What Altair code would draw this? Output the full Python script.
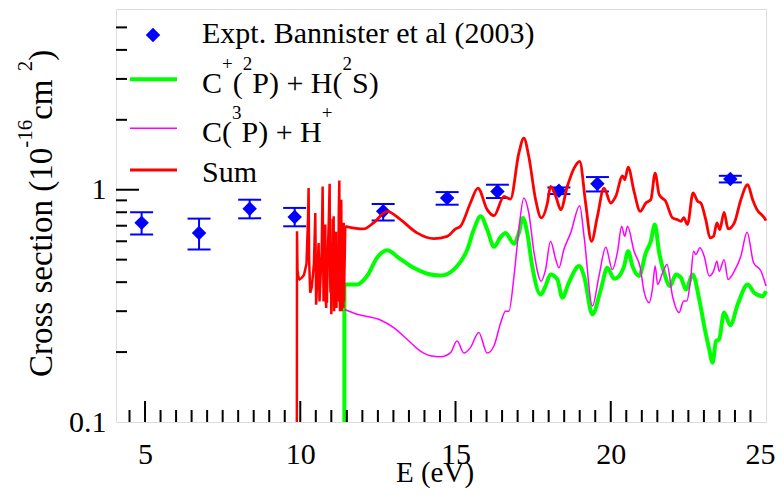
import altair as alt
import pandas as pd

# ---------------- data ----------------
expt_E = [4.89, 6.74, 8.37, 9.82, 12.67, 14.73, 16.35, 18.33, 19.57, 23.85]
expt_V = [0.720, 0.652, 0.829, 0.764, 0.807, 0.921, 0.983, 0.990, 1.061, 1.111]
expt_lo = [0.641, 0.553, 0.753, 0.696, 0.738, 0.862, 0.921, 0.958, 0.983, 1.075]
expt_hi = [0.799, 0.751, 0.906, 0.835, 0.868, 0.977, 1.051, 1.023, 1.134, 1.148]

green_E = [11.42, 11.421, 11.83, 12.15, 12.47, 12.80, 13.17, 13.65, 14.09, 14.52, 15.00, 15.38,
           15.59, 15.81, 16.02, 16.24, 16.45, 16.61, 16.88, 17.04, 17.17, 17.31, 17.47, 17.74,
           17.90, 18.06, 18.28, 18.44, 18.65, 18.98, 19.14, 19.41, 19.68, 19.89, 20.11, 20.27,
           20.43, 20.56, 20.70, 20.91, 21.13, 21.29, 21.42, 21.56, 21.72, 21.91, 22.10, 22.26,
           22.42, 22.64, 22.85, 23.03, 23.17, 23.28, 23.39, 23.49, 23.65, 23.85, 24.09, 24.41,
           24.62, 24.89, 25.00]
green_V = [0.100, 0.391, 0.391, 0.425, 0.509, 0.549, 0.509, 0.461, 0.435, 0.427, 0.461, 0.553,
           0.674, 0.768, 0.674, 0.568, 0.625, 0.652, 0.586, 0.652, 0.756, 0.652, 0.469, 0.354,
           0.385, 0.432, 0.411, 0.343, 0.398, 0.469, 0.425, 0.291, 0.372, 0.461, 0.414, 0.425,
           0.469, 0.543, 0.469, 0.425, 0.535, 0.600, 0.708, 0.535, 0.439, 0.385, 0.432, 0.418,
           0.372, 0.432, 0.337, 0.251, 0.206, 0.180, 0.223, 0.227, 0.296, 0.261, 0.321, 0.391,
           0.360, 0.348, 0.366]

mag_E = [11.42, 11.83, 12.58, 13.01, 13.44, 13.87, 14.19, 14.52, 14.84, 15.05, 15.27, 15.48,
         15.75, 16.02, 16.24, 16.45, 16.61, 16.72, 16.88, 17.04, 17.20, 17.36, 17.53, 17.76,
         17.90, 18.06, 18.23, 18.33, 18.49, 18.71, 19.00, 19.14, 19.41, 19.62, 19.84, 20.05,
         20.22, 20.35, 20.45, 20.54, 20.75, 20.95, 21.07, 21.24, 21.34, 21.43, 21.51, 21.67,
         21.81, 21.99, 22.20, 22.35, 22.45, 22.56, 22.67, 22.74, 22.87, 23.01, 23.17, 23.31,
         23.42, 23.49, 23.65, 23.78, 23.98, 24.19, 24.39, 24.60, 24.84, 25.00]
mag_V = [0.305, 0.291, 0.275, 0.255, 0.227, 0.202, 0.193, 0.191, 0.199, 0.223, 0.198, 0.209,
         0.243, 0.198, 0.213, 0.266, 0.300, 0.300, 0.420, 0.674, 0.921, 0.794, 0.535, 0.404,
         0.453, 0.600, 0.500, 0.461, 0.553, 0.652, 0.854, 0.630, 0.316, 0.425, 0.565, 0.453,
         0.543, 0.696, 0.630, 0.696, 0.543, 0.462, 0.366, 0.326, 0.372, 0.469, 0.391, 0.439,
         0.477, 0.348, 0.296, 0.332, 0.332, 0.398, 0.543, 0.526, 0.562, 0.517, 0.425, 0.446,
         0.492, 0.446, 0.500, 0.411, 0.446, 0.517, 0.656, 0.485, 0.446, 0.385]

# resonance region of the sum (sharp spikes)
red_res_E = [9.890, 9.895, 9.91, 9.95, 9.98, 10.05, 10.12, 10.20, 10.25, 10.268, 10.285, 10.32,
             10.37, 10.44, 10.484, 10.51, 10.55, 10.59, 10.62, 10.69, 10.72, 10.75, 10.765,
             10.78, 10.795, 10.806, 10.82, 10.835, 10.85, 10.86, 10.875, 10.89, 10.92, 10.946,
             10.96, 10.975, 10.99, 11.00, 11.015, 11.03, 11.045, 11.06, 11.075, 11.09, 11.105,
             11.12, 11.135, 11.15, 11.165, 11.18, 11.195, 11.21, 11.225, 11.24, 11.258, 11.27,
             11.28, 11.29, 11.30, 11.31, 11.32, 11.335, 11.35, 11.36, 11.37, 11.38, 11.39,
             11.40, 11.41, 11.42, 11.45]
red_res_V = [0.100, 0.662, 0.450, 0.415, 0.411, 0.418, 0.430, 0.480, 0.750, 1.017, 0.500, 0.360,
             0.380, 0.480, 0.794, 0.320, 0.420, 0.590, 0.330, 0.550, 1.033, 0.330, 0.420,
             0.450, 0.600, 0.708, 0.340, 0.310, 0.400, 0.326, 0.450, 0.550, 0.750, 1.061,
             0.420, 0.360, 0.450, 0.291, 0.400, 0.500, 0.750, 0.450, 0.768, 0.300, 0.420,
             0.550, 0.350, 0.660, 0.310, 0.450, 0.330, 0.500, 0.360, 0.800, 1.096, 0.350,
             0.300, 0.450, 0.550, 0.330, 0.906, 0.300, 0.500, 0.700, 0.320, 0.450, 0.310,
             0.720, 0.330, 0.420, 0.696]

red_E = [11.45, 12.04, 12.36, 12.80, 13.23, 13.76, 14.30, 14.73, 15.00, 15.16, 15.48, 15.72,
         16.02, 16.24, 16.56, 16.77, 17.04, 17.20, 17.36, 17.58, 17.76, 17.96, 18.06, 18.23,
         18.39, 18.60, 18.82, 19.00, 19.19, 19.38, 19.57, 19.78, 20.00, 20.16, 20.38, 20.45,
         20.56, 20.75, 20.95, 21.13, 21.29, 21.43, 21.56, 21.77, 21.99, 22.15, 22.26, 22.35,
         22.47, 22.65, 22.80, 22.90, 23.06, 23.20, 23.31, 23.42, 23.51, 23.65, 23.78, 23.98,
         24.19, 24.41, 24.57, 24.71, 24.95, 25.00]
red_V = [0.696, 0.678, 0.720, 0.807, 0.743, 0.652, 0.616, 0.630, 0.678, 0.696, 0.877, 1.017,
         0.821, 0.773, 0.936, 0.912, 1.437, 1.667, 1.390, 0.906, 0.756, 0.877, 1.033, 0.936,
         0.821, 1.033, 1.239, 1.323, 0.877, 0.600, 0.768, 1.017, 0.877, 0.936, 1.148, 1.104,
         1.252, 0.983, 0.807, 0.877, 0.906, 1.179, 0.952, 0.891, 0.756, 0.743, 0.731, 0.758,
         0.708, 0.968, 0.891, 0.877, 0.743, 0.620, 0.630, 0.720, 0.674, 0.799, 0.678, 0.720,
         0.906, 1.051, 0.906, 0.821, 0.756, 0.736]

x_major = [5, 10, 15, 20]
x_minor = [v / 2 for v in range(9, 50) if v % 2 == 1 or (v // 2) % 5 != 0]
y_major = [1]
y_minor = [0.2, 0.3, 0.4, 0.5, 0.6, 0.7, 0.8, 0.9, 2, 3, 4, 5]

legend_labels = ["Expt. Bannister et al (2003)", "Sum"]

# ---------------- layout ----------------
FONT = "Liberation Serif"
W, H = 650, 413
xs = alt.Scale(domain=[4.065, 25], nice=False, zero=False)
ys = alt.Scale(type="log", domain=[0.1, 6], nice=False)

xaxis = alt.Axis(values=[5, 10, 15, 20, 25], format="d", ticks=False, tickSize=0, domain=False,
                 grid=False, labelFont=FONT, labelFontSize=30, labelColor="black",
                 labelPadding=41, labelBaseline="alphabetic", labelFlush=False,
                 labelOverlap=False, title=None,
                 labelOffset={"condition": {"test": "datum.value == 25", "value": -6},
                              "value": 0})
yaxis = alt.Axis(values=[0.1, 1], labelExpr="datum.value < 0.5 ? '0.1' : '1'", ticks=False,
                 tickSize=0, domain=False, grid=False, labelFont=FONT, labelFontSize=30,
                 labelColor="black", labelPadding=10, labelBaseline="middle", labelFlush=False,
                 labelOverlap=False, title=None)


def X(f):
    return alt.X(f, type="quantitative", scale=xs, axis=xaxis)


def Y(f):
    return alt.Y(f, type="quantitative", scale=ys, axis=yaxis)


GREEN = "#00ff00"
expt = pd.DataFrame({"E": expt_E, "V": expt_V, "lo": expt_lo, "hi": expt_hi})
layers = []
layers.append(alt.Chart(expt).mark_rule(color="#0000ff", strokeWidth=2).encode(
    x=X("E"), y=Y("lo"), y2="hi"))
for f in ["lo", "hi"]:
    layers.append(alt.Chart(expt).mark_tick(color="#0000ff", orient="horizontal", size=23,
                                            thickness=2, opacity=1).encode(x=X("E"), y=Y(f)))
layers.append(alt.Chart(expt).mark_point(shape="diamond", filled=True, size=210, color="#0000ff",
                                         opacity=1).encode(x=X("E"), y=Y("V")))

green = pd.DataFrame({"E": green_E, "V": green_V})
mag = pd.DataFrame({"E": mag_E, "V": mag_V})
red_res = pd.DataFrame({"E": red_res_E, "V": red_res_V})
red = pd.DataFrame({"E": red_E, "V": red_V})
layers.append(alt.Chart(green).mark_line(color=GREEN, strokeWidth=4, interpolate="monotone")
              .encode(x=X("E"), y=Y("V")))
layers.append(alt.Chart(mag).mark_line(color="#ff00ff", strokeWidth=1.5, interpolate="monotone")
              .encode(x=X("E"), y=Y("V")))
layers.append(alt.Chart(red_res).mark_line(color="#ff0000", strokeWidth=2.5)
              .encode(x=X("E"), y=Y("V")))
layers.append(alt.Chart(red).mark_line(color="#ff0000", strokeWidth=2.8, interpolate="monotone")
              .encode(x=X("E"), y=Y("V")))

# ticks (inward)
for vals, ln in [(x_major, 21), (x_minor, 12)]:
    layers.append(alt.Chart(pd.DataFrame({"v": vals})).mark_rule(color="black", strokeWidth=2)
                  .encode(x=X("v"), y=alt.value(H), y2=alt.value(H - ln)))
for vals, ln in [(y_major, 23), (y_minor, 11)]:
    layers.append(alt.Chart(pd.DataFrame({"v": vals})).mark_rule(color="black", strokeWidth=2)
                  .encode(y=Y("v"), x=alt.value(0), x2=alt.value(ln)))

dummy = pd.DataFrame({"a": [0]})


def txt(s, x, y, size, angle=0, align="left"):
    return alt.Chart(dummy).mark_text(text=s, font=FONT, fontSize=size, angle=angle, align=align,
                                      baseline="alphabetic", color="black").encode(
        x=alt.value(x), y=alt.value(y))


WID = {"C": 667, "(": 333, ")": 333, "P": 556, " ": 250, "+": 564, "H": 722, "S": 556, "2": 500,
       "3": 500, "1": 500, "6": 500, "-": 333, "0": 500, "c": 444, "m": 778, "r": 333, "o": 500,
       "s": 389, "e": 444, "t": 278, "i": 278, "n": 500}


def tw(s, f):
    return sum(WID[c] for c in s) * f / 1000.0


def rich_h(parts, x0, y0, F, Fs, rise):
    out = []
    x = x0
    for s, sup in parts:
        if sup:
            out.append(txt(s, x, y0 - rise, Fs))
            x += tw(s, Fs)
        else:
            out.append(txt(s, x, y0, F))
            x += tw(s, F)
    return out


def rich_v(parts, x0, y0, F, Fs, rise):
    out = []
    y = y0
    for s, sup in parts:
        if sup:
            out.append(txt(s, x0 - rise, y, Fs, angle=270))
            y -= tw(s, Fs)
        else:
            out.append(txt(s, x0, y, F, angle=270))
            y -= tw(s, F)
    return out


LF, LFs, LR = 30, 19, 23
# legend
layers.append(alt.Chart(dummy).mark_point(shape="diamond", filled=True, size=210, color="#0000ff",
                                          opacity=1).encode(x=alt.value(37), y=alt.value(26)))
layers.append(txt(legend_labels[0], 86, 34.3, LF))
for yy, col, sw in [(70.3, GREEN, 4), (119.3, "#ff00ff", 1.5), (161, "#ff0000", 2.8)]:
    layers.append(alt.Chart(dummy).mark_rule(color=col, strokeWidth=sw).encode(
        x=alt.value(14), x2=alt.value(61), y=alt.value(yy)))
layers += rich_h([("C", 0), ("+", 1), ("(", 0), ("2", 1), ("P) + H(", 0), ("2", 1), ("S)", 0)],
                 86, 84, LF, LFs, LR)
layers += rich_h([("C(", 0), ("3", 1), ("P) + H", 0), ("+", 1)], 86, 132.5, LF, LFs, LR)
layers.append(txt(legend_labels[1], 86, 172.5, LF))

# axis titles
layers.append(txt("E (eV)", 319, 473, 29, align="center"))
layers += rich_v([("Cross section (10", 0), ("-16", 1), (" cm", 0), ("2", 1), (")", 0)],
                 -64, 368, 33, 21, 20)

chart = alt.layer(*layers).properties(
    width=W, height=H, autosize="none",
    padding={"left": 108, "top": 1, "right": 9, "bottom": 66},
).configure_view(stroke="black", strokeWidth=2).configure(background="white")

chart.save("out.html", embed_options={"renderer": "svg", "actions": False})
